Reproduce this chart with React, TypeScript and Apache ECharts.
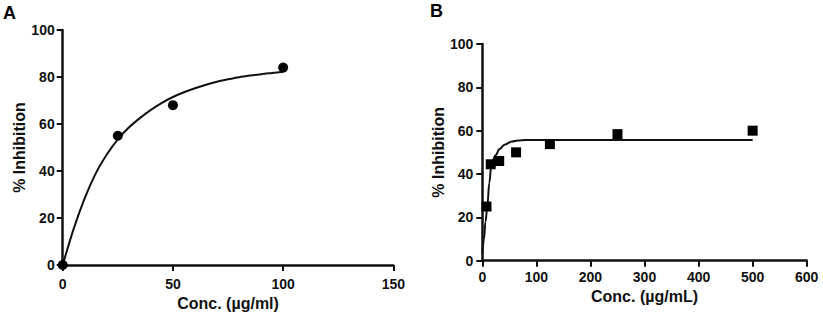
import React, { useEffect, useRef } from "react";
import * as echarts from "echarts";

// Panel A data
const concA = [0, 25, 50, 100];
const inhA = [0, 55, 68, 84];
const fitConcA = [0, 5, 10, 15, 20, 25, 30, 35, 40, 45, 50, 55, 60, 65, 70, 75, 80, 85, 90, 95, 100];
const fitInhA = [0, 15.5, 28.5, 39, 47, 53.5, 58.5, 62.5, 66, 69, 71.5, 73.5, 75.2, 76.7, 78, 79, 79.9, 80.6, 81.2, 81.7, 82.2];

// Panel B data
const concB = [7.8, 15.6, 31.25, 62.5, 125, 250, 500];
const inhB = [25, 44.5, 46, 50, 53.8, 58.4, 60];
const fitConcB = [0, 3, 6, 9.3, 13, 16.7, 24, 32, 41, 55, 66, 80, 100, 200, 300, 400, 500];
const fitInhB = [3, 10, 18, 25.3, 36, 44, 48.5, 51.5, 53.5, 55, 55.5, 55.7, 55.7, 55.7, 55.7, 55.7, 55.7];

const ticksA = { xMin: 0, xMax: 150, xStep: 50, yMin: 0, yMax: 100, yStep: 20 };
const ticksB = { xMin: 0, xMax: 600, xStep: 100, yMin: 0, yMax: 100, yStep: 20 };

const titleA = "A";
const titleB = "B";
const xNameA = "Conc. (µg/ml)";
const xNameB = "Conc. (µg/mL)";
const yName = "% Inhibition";

const pairs = (xs: number[], ys: number[]) => xs.map((x, i) => [x, ys[i]]);

const FONT = "'Liberation Sans', Arial, sans-serif";
const INK = "#111111";

function axisCommon(labelMargin: number) {
  return {
    type: "value" as const,
    axisLine: { show: true, lineStyle: { color: INK, width: 2.5 } },
    axisTick: { show: true, inside: false, length: 6, lineStyle: { color: INK, width: 2 } },
    axisLabel: { color: INK, fontFamily: FONT, fontWeight: "bold" as const, fontSize: 14, margin: labelMargin },
    splitLine: { show: false },
    nameTextStyle: { color: INK, fontFamily: FONT, fontWeight: "bold" as const, fontSize: 16 },
  };
}

export default function App() {
  const ref = useRef<HTMLDivElement>(null);
  useEffect(() => {
    if (!ref.current) return;
    const chart = echarts.init(ref.current, undefined, { renderer: "svg" });
    chart.setOption({
      animation: false,
      backgroundColor: "#ffffff",
      grid: [
        { left: 62.7, top: 30, width: 330.7, height: 235, outerBoundsMode: "none", containLabel: false },
        { left: 482.3, top: 44, width: 324.4, height: 216.7, outerBoundsMode: "none", containLabel: false },
      ],
      xAxis: [
        {
          ...axisCommon(12),
          gridIndex: 0,
          min: ticksA.xMin,
          max: ticksA.xMax,
          interval: ticksA.xStep,
          name: xNameA,
          nameLocation: "middle",
          nameGap: 30,
        },
        {
          ...axisCommon(9),
          gridIndex: 1,
          min: ticksB.xMin,
          max: ticksB.xMax,
          interval: ticksB.xStep,
          name: xNameB,
          nameLocation: "middle",
          nameGap: 25,
        },
      ],
      yAxis: [
        {
          ...axisCommon(8),
          gridIndex: 0,
          min: ticksA.yMin,
          max: ticksA.yMax,
          interval: ticksA.yStep,
          name: yName,
          nameLocation: "middle",
          nameGap: 34,
        },
        {
          ...axisCommon(9),
          gridIndex: 1,
          min: ticksB.yMin,
          max: ticksB.yMax,
          interval: ticksB.yStep,
          name: yName,
          nameLocation: "middle",
          nameGap: 28,
        },
      ],
      series: [
        {
          type: "line",
          xAxisIndex: 0,
          yAxisIndex: 0,
          data: pairs(fitConcA, fitInhA),
          smooth: 0.3,
          showSymbol: false,
          symbol: "none",
          lineStyle: { color: INK, width: 2 },
          z: 2,
        },
        {
          type: "scatter",
          xAxisIndex: 0,
          yAxisIndex: 0,
          data: pairs(concA, inhA),
          symbol: "circle",
          symbolSize: 10,
          itemStyle: { color: "#000", opacity: 1 },
          z: 3,
        },
        {
          type: "line",
          xAxisIndex: 1,
          yAxisIndex: 1,
          data: pairs(fitConcB, fitInhB),
          smooth: 0.4,
          smoothMonotone: "x",
          showSymbol: false,
          symbol: "none",
          lineStyle: { color: INK, width: 2 },
          z: 2,
        },
        {
          type: "scatter",
          xAxisIndex: 1,
          yAxisIndex: 1,
          data: pairs(concB, inhB),
          symbol: "rect",
          symbolSize: 10,
          itemStyle: { color: "#000", opacity: 1 },
          z: 3,
        },
      ],
      graphic: [
        {
          type: "text",
          left: 3,
          top: 4,
          style: { text: titleA, fill: "#000", font: `bold 18px ${FONT}` },
        },
        {
          type: "text",
          left: 430,
          top: 2,
          style: { text: titleB, fill: "#000", font: `bold 18px ${FONT}` },
        },
      ],
    });
    return () => chart.dispose();
  }, []);
  return (
    <div
      ref={ref}
      style={{ position: "absolute", left: 0, top: 0, width: 823, height: 315 }}
    />
  );
}
